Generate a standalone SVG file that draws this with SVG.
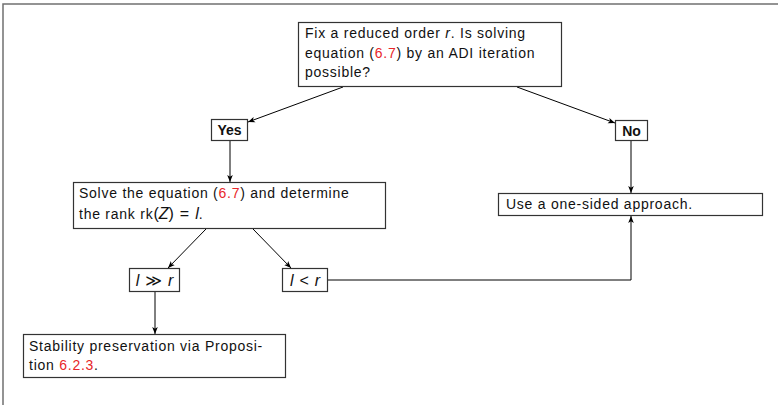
<svg xmlns="http://www.w3.org/2000/svg" width="778" height="405" viewBox="0 0 778 405">
  <defs>
    <marker id="arrow" viewBox="0 0 10 10" refX="10" refY="5" markerWidth="7" markerHeight="7" orient="auto-start-reverse" markerUnits="userSpaceOnUse">
      <path d="M0,1 L10,5 L0,9 L2.5,5 Z" fill="#000"/>
    </marker>
    <style>
      .frame { fill: none; stroke: #707070; stroke-width: 1.5; }
      .box { fill: #fff; stroke: #333; stroke-width: 1.2; }
      .txt { font-family: "Liberation Sans", "DejaVu Sans", sans-serif; font-size: 14px; letter-spacing: 0.75px; fill: #111; }
      .bold { font-weight: bold; letter-spacing: 0; font-size: 14px; }
      .it { font-style: italic; }
      .math { font-size: 16px; letter-spacing: 0; }
      .ref { fill: #e8262a; }
      .conn { fill: none; stroke: #000; stroke-width: 1; marker-end: url(#arrow); }
    </style>
  </defs>

  <!-- outer frame (top and left edges) -->
  <path class="frame" d="M3,405 V4 H778"/>

  <!-- connectors -->
  <g id="connectors">
    <line class="conn" x1="343" y1="87" x2="248" y2="122"/>
    <line class="conn" x1="517" y1="87" x2="615" y2="123"/>
    <line class="conn" x1="230" y1="140" x2="230" y2="182"/>
    <line class="conn" x1="631" y1="140" x2="631" y2="193"/>
    <line class="conn" x1="206" y1="229" x2="168" y2="268"/>
    <line class="conn" x1="253" y1="229" x2="291" y2="268"/>
    <line class="conn" x1="155" y1="292" x2="155" y2="334"/>
    <path class="conn" d="M328,280 H631 V216"/>
  </g>

  <!-- question -->
  <g id="question">
    <rect class="box" x="298.5" y="22.5" width="263" height="64"/>
    <text class="txt" x="305" y="38">Fix a reduced order <tspan class="it">r</tspan>. Is solving</text>
    <text class="txt" x="305" y="58">equation (<tspan class="ref">6.7</tspan>) by an ADI iteration</text>
    <text class="txt" x="305" y="77">possible?</text>
  </g>

  <!-- yes -->
  <g id="yes">
    <rect class="box" x="211.5" y="119.5" width="36" height="21"/>
    <text class="txt bold" x="229.5" y="135" text-anchor="middle">Yes</text>
  </g>

  <!-- no -->
  <g id="no">
    <rect class="box" x="615.5" y="120.5" width="32" height="20"/>
    <text class="txt bold" x="631.5" y="135.5" text-anchor="middle">No</text>
  </g>

  <!-- solve -->
  <g id="solve">
    <rect class="box" x="73.5" y="182.5" width="312" height="46"/>
    <text class="txt" x="79" y="198">Solve the equation (<tspan class="ref">6.7</tspan>) and determine</text>
    <text class="txt" x="79" y="219">the rank rk<tspan class="math">(<tspan class="it">Z</tspan>)</tspan><tspan class="math" dx="6">=</tspan><tspan class="math it" dx="6">l</tspan>.</text>
  </g>

  <!-- one-sided -->
  <g id="onesided">
    <rect class="box" x="498.5" y="193.5" width="264" height="22"/>
    <text class="txt" x="506" y="209">Use a one-sided approach.</text>
  </g>

  <!-- l much greater than r -->
  <g id="lgg">
    <rect class="box" x="129.5" y="268.5" width="50" height="23"/>
    <text class="txt math" x="154.5" y="286" text-anchor="middle"><tspan class="it">l</tspan><tspan dx="6">≫</tspan><tspan class="it" dx="6">r</tspan></text>
  </g>

  <!-- l less than r -->
  <g id="llt">
    <rect class="box" x="282.5" y="268.5" width="45" height="23"/>
    <text class="txt math" x="305" y="286" text-anchor="middle"><tspan class="it">l</tspan><tspan dx="6">&lt;</tspan><tspan class="it" dx="6">r</tspan></text>
  </g>

  <!-- stability -->
  <g id="stability">
    <rect class="box" x="23.5" y="334.5" width="262" height="43"/>
    <text class="txt" x="29" y="351">Stability preservation via Proposi-</text>
    <text class="txt" x="29" y="370">tion <tspan class="ref">6.2.3</tspan>.</text>
  </g>
</svg>
